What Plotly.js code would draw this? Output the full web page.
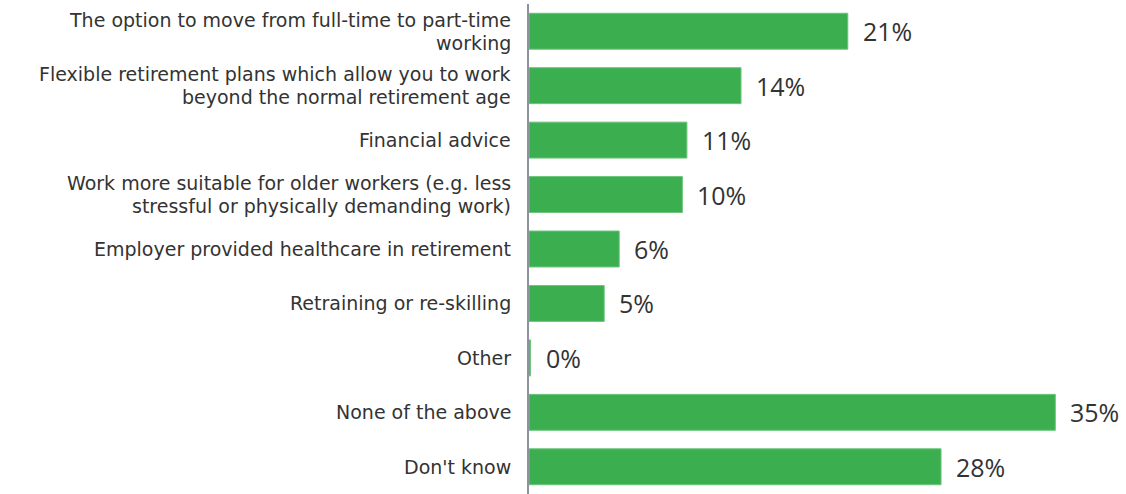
<!DOCTYPE html>
<html><head><meta charset="utf-8">
<script src="https://cdn.plot.ly/plotly-3.0.1.min.js"></script>
<style>html,body{margin:0;padding:0;background:#fff}</style>
</head><body>
<div id="chart" style="width:1126px;height:494px"></div>
<script>
const categories = [
  "The option to move from full-time to part-time<br>working",
  "Flexible retirement plans which allow you to work<br>beyond the normal retirement age",
  "Financial advice",
  "Work more suitable for older workers (e.g. less<br>stressful or physically demanding work)",
  "Employer provided healthcare in retirement",
  "Retraining or re-skilling",
  "Other",
  "None of the above",
  "Don't know"
];
const values = [21.2, 14.1, 10.5, 10.2, 6.0, 5.0, 0.1, 35, 27.4];
const valueLabels = ["21%", "14%", "11%", "10%", "6%", "5%", "0%", "35%", "28%"];

const trace = {
  type: "bar",
  orientation: "h",
  y: categories,
  x: values,
  marker: {color: "#3bae50", line: {color: "#6cc57c", width: 1}},
  hoverinfo: "none"
};
const annotations = [];
categories.forEach((c, i) => {
  annotations.push({
    x: values[i], y: c, xref: "x", yref: "y",
    text: valueLabels[i], showarrow: false,
    xanchor: "left", xshift: 13,
    font: {family: "Open Sans, sans-serif", size: 25, color: "#333333"}
  });
  const lines = c.split("<br>");
  const step = 22.6;
  lines.forEach((ln, k) => {
    const off = (k - (lines.length - 1) / 2) * step;
    annotations.push({
      x: 0, y: c, xref: "paper", yref: "y",
      text: ln, showarrow: false, borderpad: 0,
      xanchor: "right", xshift: -17, yshift: -off,
      font: {family: "DejaVu Sans, Verdana, sans-serif", size: 19, color: "#333333"}
    });
  });
});
const layout = {
  width: 1126, height: 494,
  margin: {l: 529, r: 0, t: 4, b: 0},
  paper_bgcolor: "#ffffff", plot_bgcolor: "#ffffff",
  showlegend: false,
  bargap: 0.34,
  xaxis: {range: [0, 39.7], showgrid: false, zeroline: false, showticklabels: false, showline: false, fixedrange: true},
  yaxis: {
    autorange: "reversed", type: "category",
    showline: true, linecolor: "#8c939c", linewidth: 2,
    showgrid: false, zeroline: false, showticklabels: false, ticks: ""
  },
  annotations: annotations
};
Plotly.newPlot("chart", [trace], layout, {displayModeBar: false, staticPlot: true});
</script>
</body></html>
